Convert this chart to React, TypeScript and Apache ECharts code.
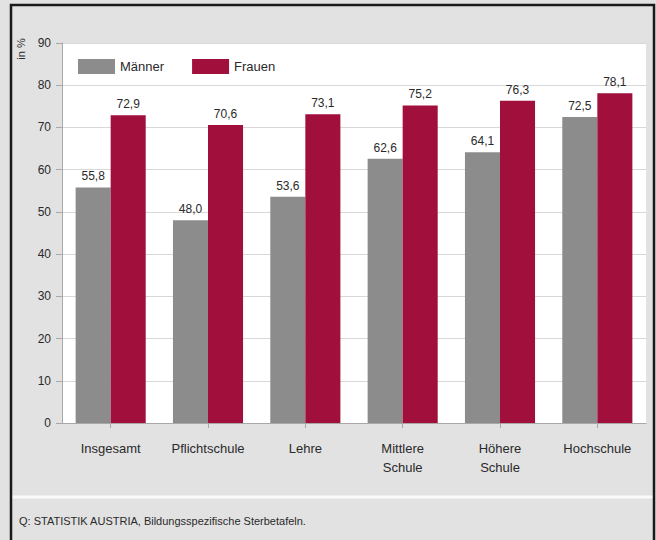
import React, { useEffect, useRef } from "react";
import * as echarts from "echarts";

const categories = ["Insgesamt", "Pflichtschule", "Lehre", "Mittlere\nSchule", "Höhere\nSchule", "Hochschule"];
const maennerValues = [55.8, 48.0, 53.6, 62.6, 64.1, 72.5];
const frauenValues = [72.9, 70.6, 73.1, 75.2, 76.3, 78.1];
const seriesNames = ["Männer", "Frauen"];
const yTicks = { min: 0, max: 90, interval: 10 };
const yAxisTitle = "in %";
const sourceText = "Q: STATISTIK AUSTRIA, Bildungsspezifische Sterbetafeln.";

const FONT = "'Liberation Sans', Arial, sans-serif";
const fmt = (v: number) => v.toFixed(1).replace(".", ",");

export default function App() {
  const ref = useRef<HTMLDivElement>(null);
  useEffect(() => {
    if (!ref.current) return;
    const chart = echarts.init(ref.current, undefined, { renderer: "svg" });
    const labelCfg = {
      show: true,
      position: "top" as const,
      distance: 5,
      fontSize: 12,
      color: "#2a2a2a",
      fontFamily: FONT,
      formatter: (p: any) => fmt(p.value),
    };
    chart.setOption({
      animation: false,
      backgroundColor: "#e2e2e2",
      textStyle: { fontFamily: FONT },
      graphic: [
        {
          type: "line",
          shape: { x1: 12, y1: 497, x2: 654, y2: 497 },
          style: { stroke: "#fafafa", lineWidth: 3 },
          z: 10,
        },
        {
          type: "text",
          x: 19,
          y: 521,
          style: {
            text: sourceText,
            fontSize: 11,
            fontFamily: FONT,
            fill: "#2a2a2a",
            verticalAlign: "middle",
          },
          z: 10,
        },
        {
          type: "text",
          x: 21,
          y: 49,
          rotation: Math.PI / 2,
          style: {
            text: yAxisTitle,
            fontSize: 11,
            fontFamily: FONT,
            fill: "#2a2a2a",
            align: "center",
            verticalAlign: "middle",
          },
          z: 10,
        },
        {
          type: "rect",
          shape: { x: 11, y: 5, width: 643, height: 560 },
          style: { fill: "none", stroke: "#1a1a1a", lineWidth: 2.5 },
          z: 20,
        },
      ],
      legend: {
        left: 73,
        top: 54,
        itemWidth: 37,
        itemHeight: 15,
        itemGap: 28,
        icon: "rect",
        textStyle: { fontSize: 13, color: "#2a2a2a", fontFamily: FONT },
        data: seriesNames,
      },
      grid: {
        left: 62,
        right: 10,
        top: 43,
        bottom: 117,
        show: true,
        backgroundColor: "#ffffff",
        borderWidth: 0,
      },
      xAxis: {
        type: "category",
        data: categories,
        axisLine: { show: true, lineStyle: { color: "#a8a8a8", width: 1 } },
        axisTick: { show: true, alignWithLabel: true, length: 5, lineStyle: { color: "#a8a8a8" } },
        axisLabel: { margin: 16, fontSize: 13, lineHeight: 19, color: "#2a2a2a", fontFamily: FONT, interval: 0 },
      },
      yAxis: {
        type: "value",
        min: yTicks.min,
        max: yTicks.max,
        interval: yTicks.interval,
        axisLine: { show: true, lineStyle: { color: "#a8a8a8", width: 1 } },
        axisTick: { show: true, length: 6, lineStyle: { color: "#a8a8a8" } },
        axisLabel: { margin: 11, fontSize: 12, color: "#2a2a2a", fontFamily: FONT },
        splitLine: { show: true, lineStyle: { color: "#d8d8d8", width: 1 } },
      },
      series: [
        {
          name: seriesNames[0],
          type: "bar",
          data: maennerValues,
          itemStyle: { color: "#8c8c8c" },
          barGap: "0%",
          barCategoryGap: "28%",
          label: labelCfg,
        },
        {
          name: seriesNames[1],
          type: "bar",
          data: frauenValues,
          itemStyle: { color: "#a10f3d" },
          barGap: "0%",
          barCategoryGap: "28%",
          label: labelCfg,
        },
      ],
    });
    return () => chart.dispose();
  }, []);
  return <div ref={ref} style={{ position: "absolute", left: 0, top: 0, width: 656, height: 540 }} />;
}
